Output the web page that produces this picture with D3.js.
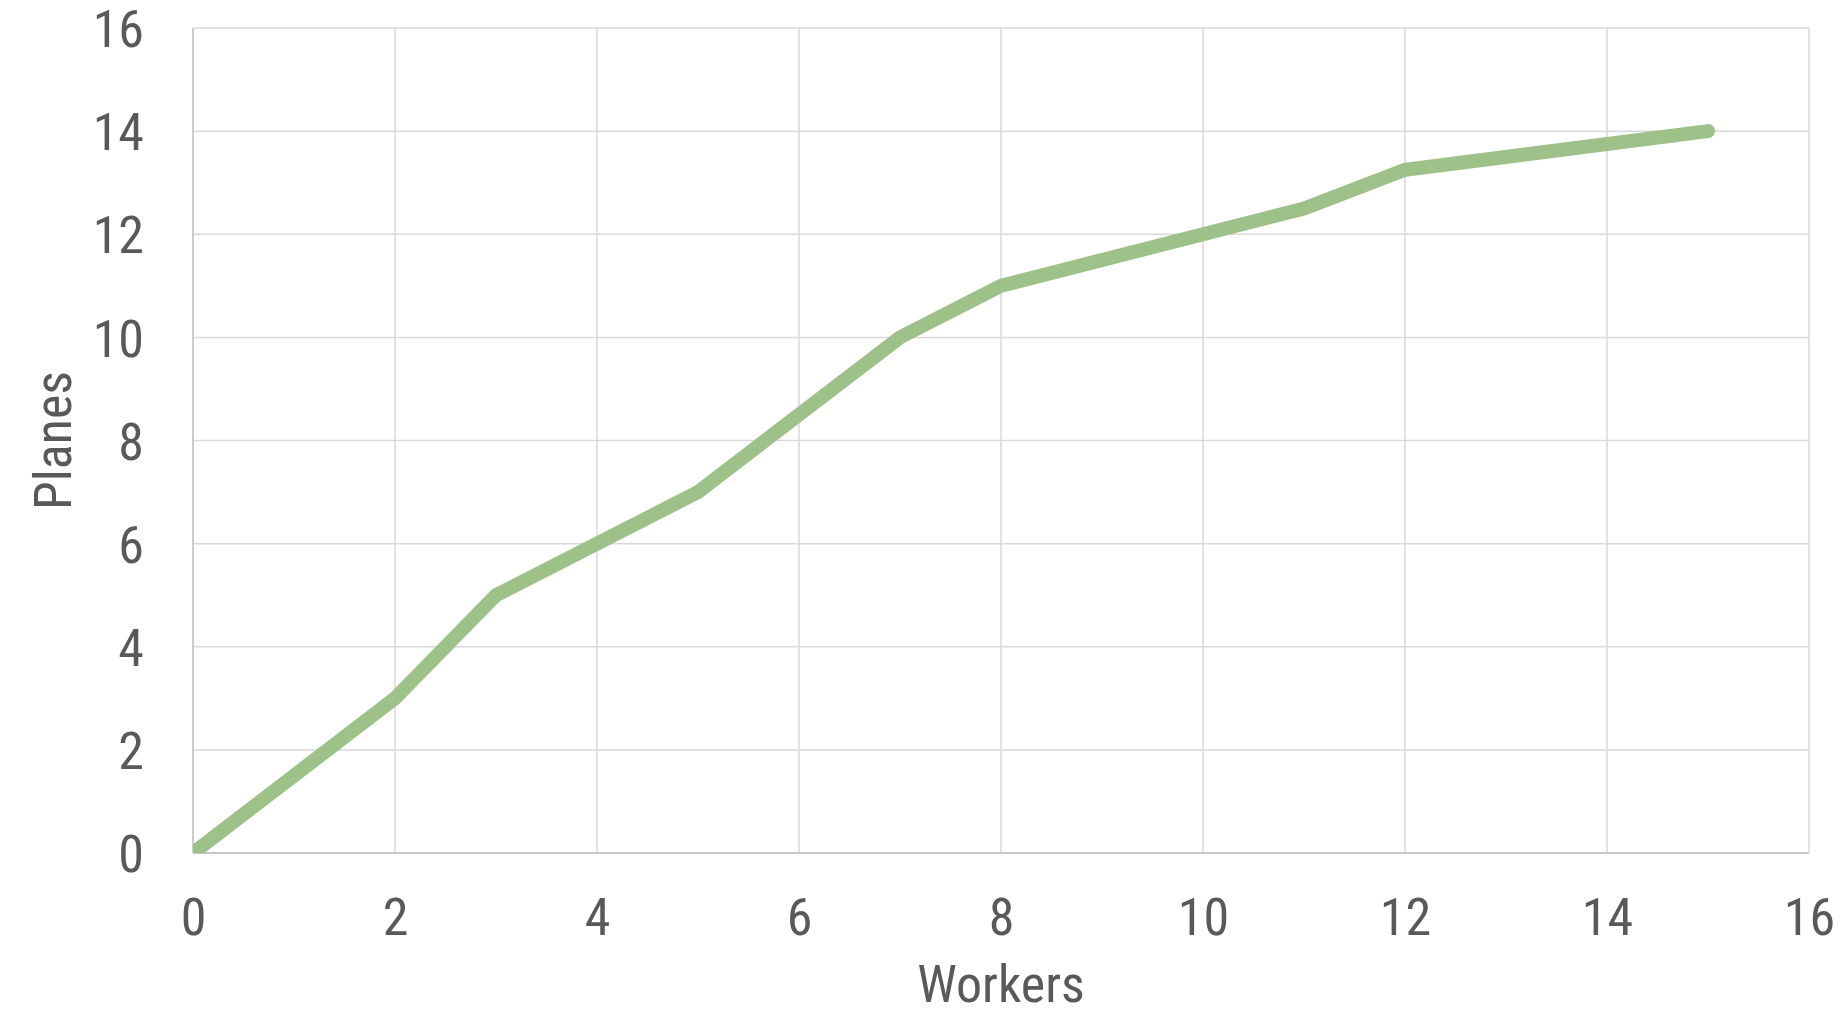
<!DOCTYPE html>
<html>
<head>
<meta charset="utf-8">
<script src="https://cdn.jsdelivr.net/npm/d3@7"></script>
<style>
  html, body { margin: 0; padding: 0; background: #ffffff; }
  svg { display: block; }
  text { font-family: "Roboto Condensed", Roboto, "Noto Sans", sans-serif; font-weight: 400; fill: #595959; }
</style>
</head>
<body>
<svg id="chart" width="1841" height="1016"></svg>
<script>
// Workers vs. planes produced
const workers = [0, 2, 3, 5, 7, 8, 11, 12, 15];
const planes  = [0, 3, 5, 7, 10, 11, 12.5, 13.25, 14];
const xTicks = [0, 2, 4, 6, 8, 10, 12, 14, 16];
const yTicks = [0, 2, 4, 6, 8, 10, 12, 14, 16];
const xTitle = "Workers";
const yTitle = "Planes";

const W = 1841, H = 1016;
const m = { left: 193, right: 32, top: 28, bottom: 163 };
const innerW = W - m.left - m.right;
const innerH = H - m.top - m.bottom;
const fontSize = "52px";

const svg = d3.select("#chart");
const g = svg.append("g").attr("transform", `translate(${m.left},${m.top})`);

const x = d3.scaleLinear().domain([0, 16]).range([0, innerW]);
const y = d3.scaleLinear().domain([0, 16]).range([innerH, 0]);

// gridlines
g.append("g").selectAll("line").data(yTicks).join("line")
  .attr("x1", 0).attr("x2", innerW)
  .attr("y1", d => y(d)).attr("y2", d => y(d))
  .attr("stroke", "#d9d9d9").attr("stroke-width", 1.5);
g.append("g").selectAll("line").data(xTicks).join("line")
  .attr("y1", 0).attr("y2", innerH)
  .attr("x1", d => x(d)).attr("x2", d => x(d))
  .attr("stroke", "#d9d9d9").attr("stroke-width", 1.5);

// axis lines
g.append("line").attr("x1", 0).attr("x2", 0).attr("y1", 0).attr("y2", innerH)
  .attr("stroke", "#c4c4c4").attr("stroke-width", 1.5);
g.append("line").attr("x1", 0).attr("x2", innerW).attr("y1", innerH).attr("y2", innerH)
  .attr("stroke", "#bfbfbf").attr("stroke-width", 1.5);

// tick labels via axes
const xAxis = g.append("g").attr("transform", `translate(0,${innerH})`)
  .call(d3.axisBottom(x).tickValues(xTicks).tickSize(0).tickFormat(d3.format("d")));
xAxis.select(".domain").remove();
xAxis.attr("font-family", null).attr("font-size", null);
xAxis.selectAll("text")
  .attr("y", 63).attr("dy", "0.36em")
  .style("font-size", fontSize).attr("fill", "#595959");

const yAxis = g.append("g")
  .call(d3.axisLeft(y).tickValues(yTicks).tickSize(0).tickFormat(d3.format("d")));
yAxis.select(".domain").remove();
yAxis.attr("font-family", null).attr("font-size", null);
yAxis.selectAll("text")
  .attr("x", -49).attr("dy", "0.36em")
  .style("font-size", fontSize).attr("fill", "#595959");

// data line, clipped to plot area
svg.append("defs").append("clipPath").attr("id", "plot")
  .append("rect").attr("x", 0).attr("y", -20).attr("width", innerW + 20).attr("height", innerH + 20);

const line = d3.line().x((d, i) => x(workers[i])).y(d => y(d));
g.append("path")
  .datum(planes)
  .attr("clip-path", "url(#plot)")
  .attr("d", line)
  .attr("fill", "none")
  .attr("stroke", "#9dc189")
  .attr("stroke-width", 14)
  .attr("stroke-linecap", "round")
  .attr("stroke-linejoin", "miter");

// axis titles
svg.append("text")
  .attr("x", m.left + innerW / 2).attr("y", 983)
  .attr("text-anchor", "middle").attr("dy", "0.36em")
  .style("font-size", fontSize).text(xTitle);

svg.append("text")
  .attr("transform", `translate(52,${m.top + innerH / 2}) rotate(-90)`)
  .attr("text-anchor", "middle").attr("dy", "0.36em")
  .style("font-size", fontSize).text(yTitle);
</script>
</body>
</html>
